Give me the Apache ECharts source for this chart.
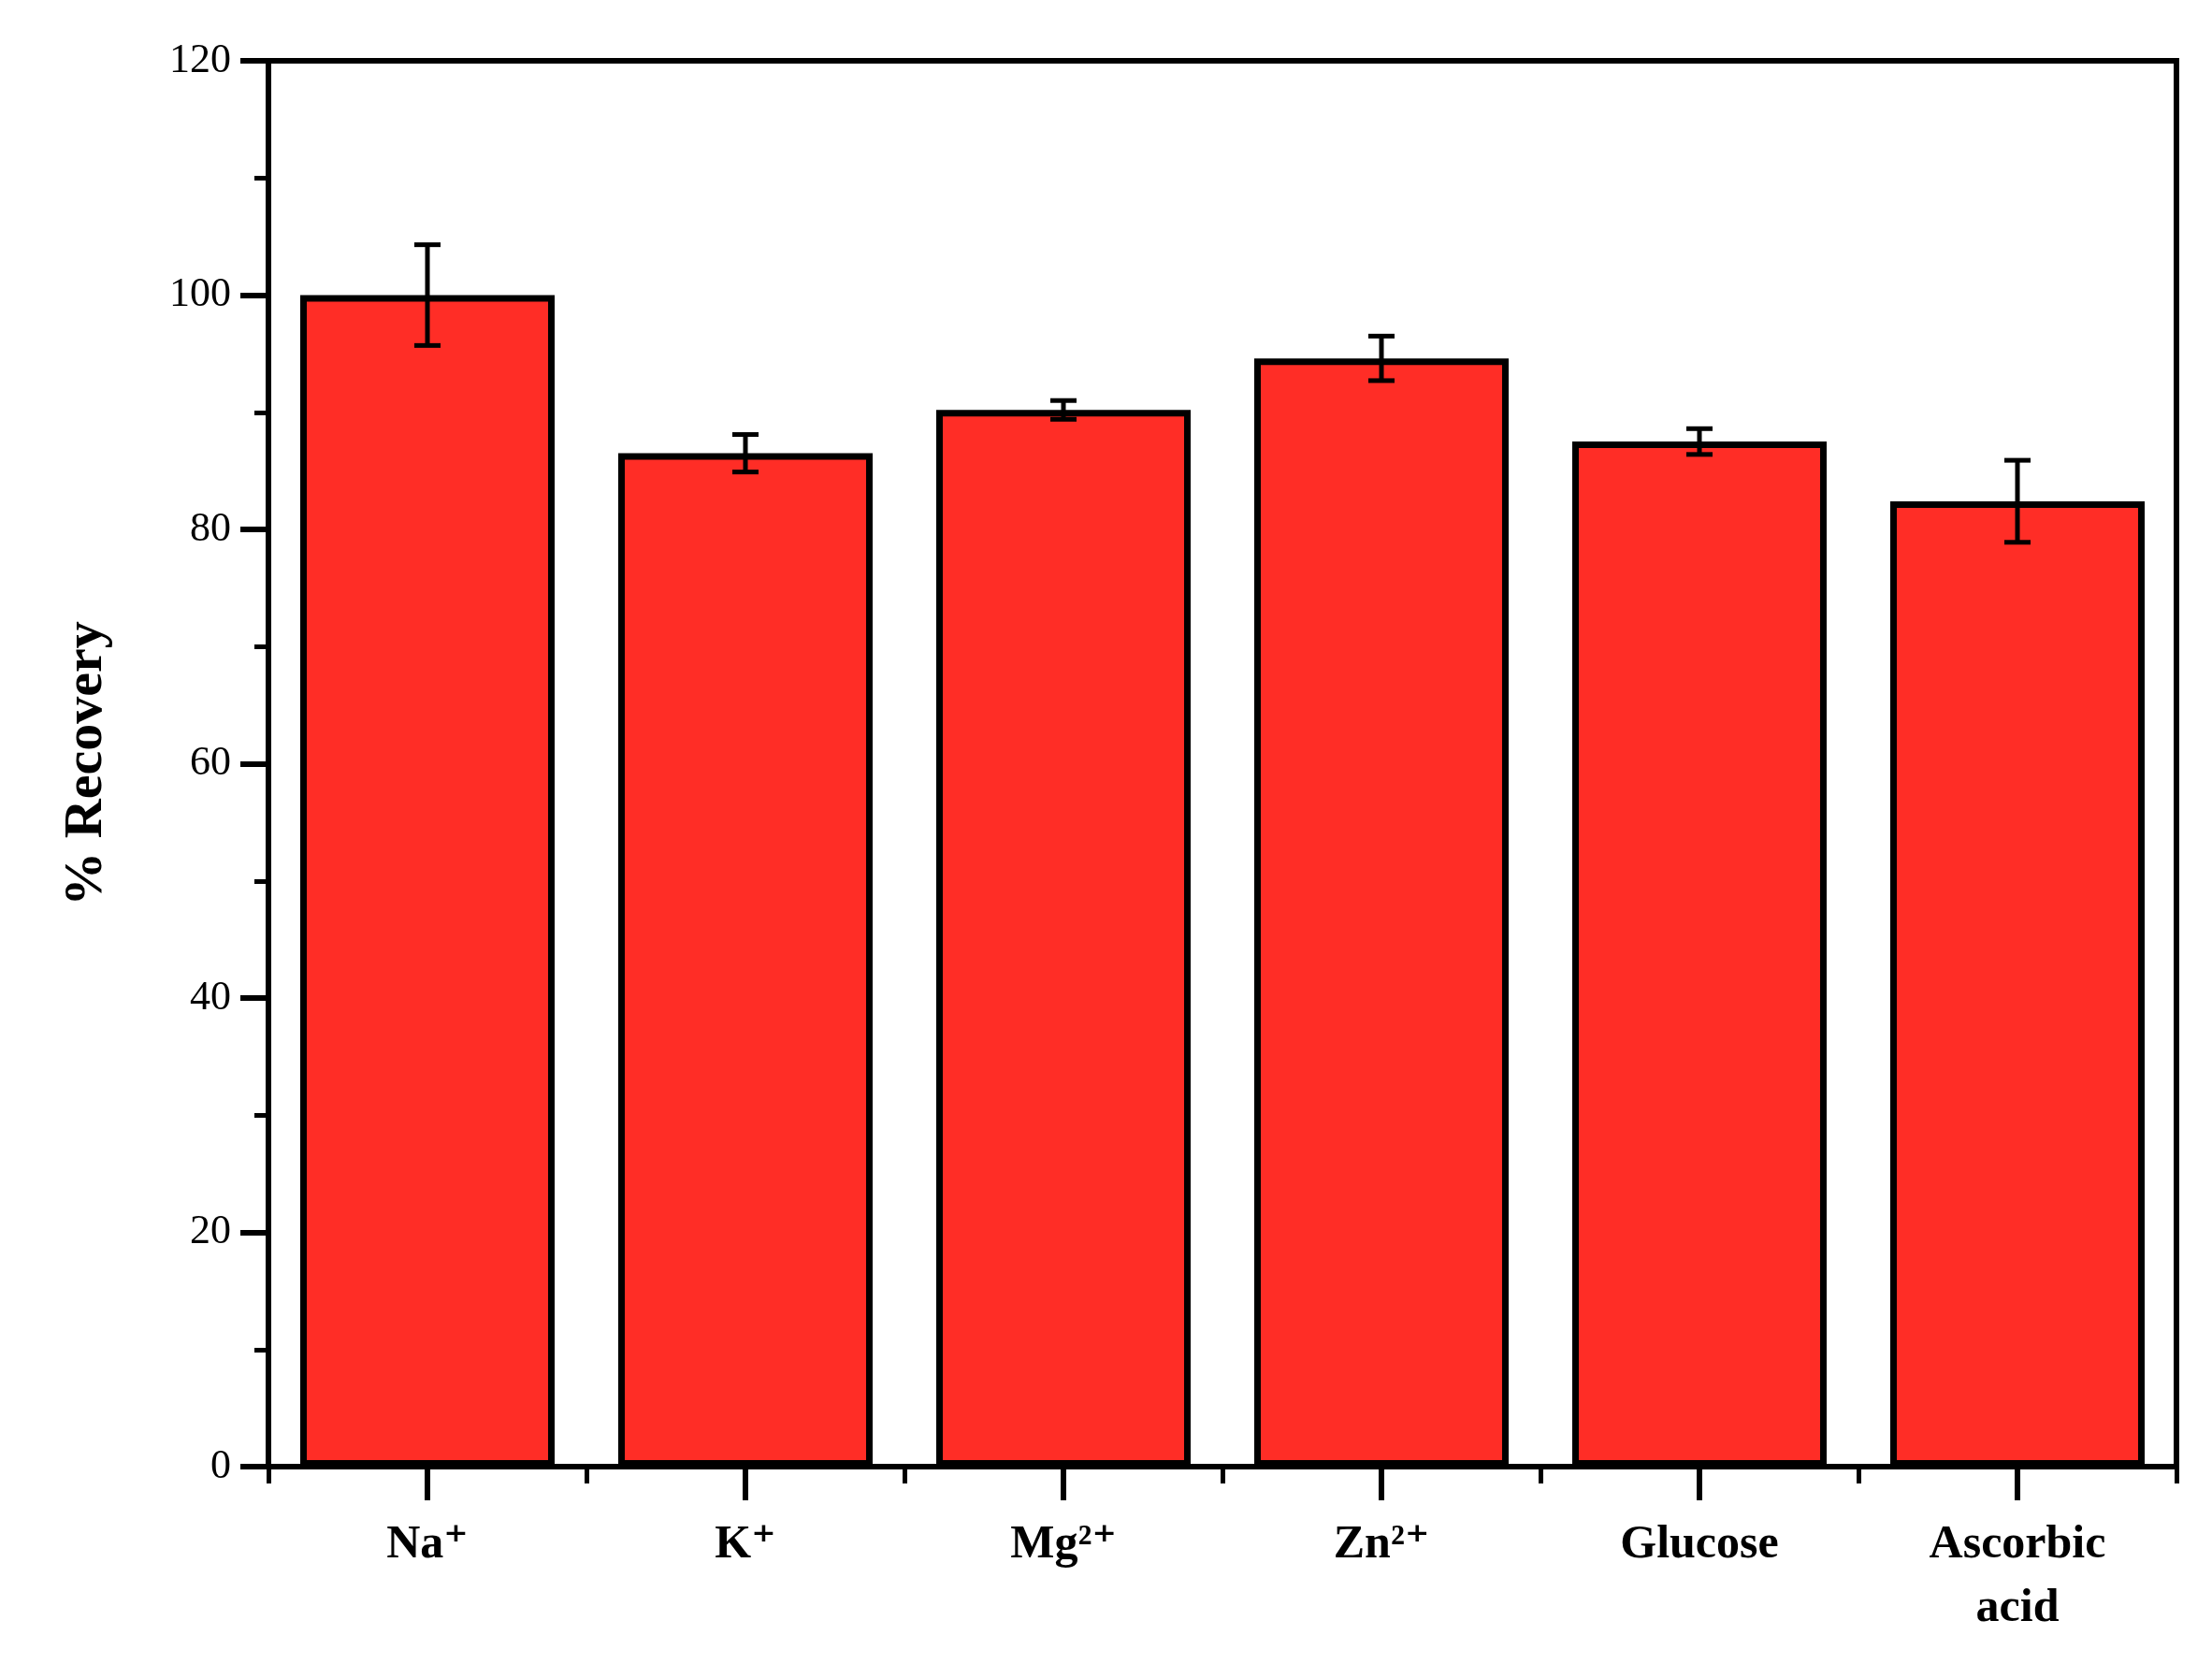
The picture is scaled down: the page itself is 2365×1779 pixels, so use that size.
<!DOCTYPE html>
<html>
<head>
<meta charset="utf-8">
<script src="https://cdn.jsdelivr.net/npm/echarts@6/dist/echarts.min.js"></script>
<style>html,body{margin:0;padding:0;background:#fff}#chart{width:2365px;height:1779px}</style>
</head>
<body>
<div id="chart"></div>
<script>
// data
const categories = ['Na⁺', 'K⁺', 'Mg²⁺', 'Zn²⁺', 'Glucose', 'Ascorbic\nacid'];
const recovery = [100, 86.5, 90.2, 94.6, 87.5, 82.4];
const errors = [4.3, 1.6, 0.8, 1.9, 1.1, 3.5];
const yTicks = [0, 20, 40, 60, 80, 100, 120];

const font = '"Liberation Serif", "DejaVu Serif", serif';
const chart = echarts.init(document.getElementById('chart'));

chart.setOption({
    animation: false,
    grid: { left: 287, right: 38, top: 65, bottom: 211, show: true, borderColor: '#000', borderWidth: 6 },
    xAxis: [
        {
            type: 'category', data: categories,
            axisLine: { lineStyle: { color: '#000', width: 6 } },
            axisTick: { show: true, alignWithLabel: true, length: 36, lineStyle: { width: 6, color: '#000' } },
            axisLabel: { fontFamily: font, fontWeight: 'bold', fontSize: 50, color: '#000', margin: 50, lineHeight: 68 }
        },
        {
            type: 'category', data: categories, position: 'bottom',
            axisLine: { show: false },
            axisTick: { show: true, length: 18, lineStyle: { width: 5, color: '#000' } },
            axisLabel: { show: false }
        }
    ],
    yAxis: {
        type: 'value', min: yTicks[0], max: yTicks[yTicks.length - 1], interval: 20,
        name: '% Recovery', nameLocation: 'middle', nameGap: 165,
        nameTextStyle: { fontFamily: font, fontWeight: 'bold', fontSize: 58, color: '#000' },
        axisLine: { show: true, lineStyle: { color: '#000', width: 6 } },
        axisTick: { show: true, length: 30, lineStyle: { width: 6, color: '#000' } },
        minorTick: { show: true, splitNumber: 2, length: 15, lineStyle: { width: 5, color: '#000' } },
        splitLine: { show: false },
        axisLabel: { fontFamily: font, fontSize: 44, color: '#000', margin: 40 }
    },
    series: [
        {
            type: 'bar', data: recovery, barWidth: '80%',
            itemStyle: { color: '#FF2D26', borderColor: '#000', borderWidth: 7 }
        },
        {
            type: 'custom',
            data: recovery.map((v, i) => [i, v - errors[i], v + errors[i]]),
            renderItem: (params, api) => {
                const lo = api.coord([api.value(0), api.value(1)]);
                const hi = api.coord([api.value(0), api.value(2)]);
                const w = 14;
                const style = { stroke: '#000', lineWidth: 5 };
                return {
                    type: 'group',
                    children: [
                        { type: 'line', shape: { x1: lo[0], y1: lo[1], x2: hi[0], y2: hi[1] }, style },
                        { type: 'line', shape: { x1: lo[0] - w, y1: lo[1], x2: lo[0] + w, y2: lo[1] }, style },
                        { type: 'line', shape: { x1: hi[0] - w, y1: hi[1], x2: hi[0] + w, y2: hi[1] }, style }
                    ]
                };
            },
            z: 10
        }
    ]
});
</script>
</body>
</html>
